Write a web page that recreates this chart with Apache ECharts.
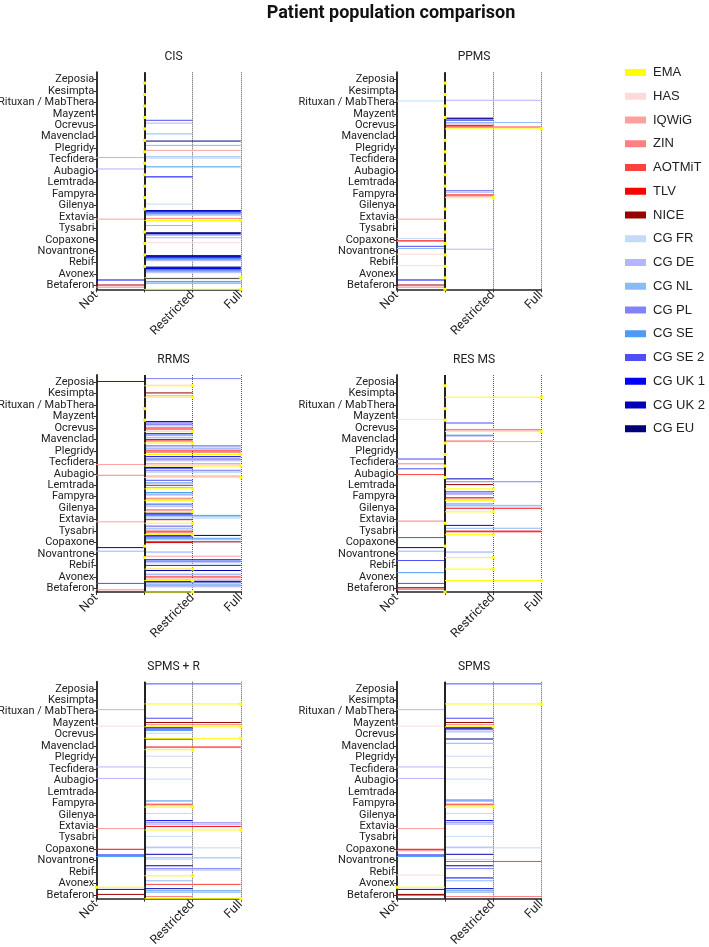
<!DOCTYPE html>
<html>
<head>
<meta charset="utf-8">
<script src="https://cdn.jsdelivr.net/npm/echarts@6/dist/echarts.min.js"></script>
<style>
  html, body { margin: 0; padding: 0; background: #fff; }
  #main { width: 709px; height: 947px; }
</style>
</head>
<body>
<div id="main"></div>
<script>
// drugs, top to bottom as on the y axis
const drugs = ['Zeposia', 'Kesimpta', 'Rituxan / MabThera', 'Mayzent', 'Ocrevus', 'Mavenclad',
  'Plegridy', 'Tecfidera', 'Aubagio', 'Lemtrada', 'Fampyra', 'Gilenya', 'Extavia', 'Tysabri',
  'Copaxone', 'Novantrone', 'Rebif', 'Avonex', 'Betaferon'];

const agencies = ['EMA', 'HAS', 'IQWiG', 'ZIN', 'AOTMiT', 'TLV', 'NICE', 'CG FR', 'CG DE', 'CG NL',
  'CG PL', 'CG SE', 'CG SE 2', 'CG UK 1', 'CG UK 2', 'CG EU'];
const agencyColors = ['#ffff00', '#ffdada', '#ffa0a0', '#ff8080', '#ff4040', '#ff0000', '#990000',
  '#c4daf8', '#b4b4ff', '#8abaf8', '#8282fa', '#4c9bf7', '#4f4ff7', '#0000ff', '#0000bb', '#000078'];

const xTickValues = [-1, 0, 1, 2];
const xTickLabels = ['Not', '', 'Restricted', 'Full'];

// one row per drug, one character per agency (same order as agencies)
// '.' no assessment, '0' no decision, 'N' not, 'R' restricted, 'F' full
const decisionValue = { '0': 0, N: -1, R: 1, F: 2 };

const cis = [
  '0...............', '0...............', '0...............', '0...............',
  '0.......R...R...', '0........R......', '0.F......F.....F', '0......FNF......',
  '0.......N..F....', '0............R..', '0...............', '0......R........',
  'F.NF...FFFFFFFF.', '0........R......', '0F......F...F.FF', '0...............',
  '0.......FFFFFFFF', 'F......FFFFFFFFF', 'F..N..N.FF.F.N.F'
];
const ppms = [
  '0...............', '0...............', '0......NF.......', '0...............',
  'F.FFRR..RF..R.RR', '0...............', '0...............', '0...............',
  '0...............', '0...............', 'R.RRR..RR.R.....', '0...............',
  '0.N.............', '0...............', '0..NN..N........', '0N......RN..N...',
  '0N..............', '0...............', '0..N..N......N..'
];
const rrms = [
  'RR....N...F.....', 'R.R...R.........', '0...............', '0...............',
  'RR.R.R..R.R.R.R.', 'R.R.RR.RR..R.R..', 'F..F.F.FFF..F...', 'FFNF...FFFF..F..',
  'FFFN...F.FF..RR.', 'R.R..R.RRR..R...', 'RRRR...RRR.R....', 'R.RR...RR.RR....',
  'R.N..R.F.F.FR.R.', 'RR.R.R.R.R..R...', '0....RF..F.F.R.F', '0.F....RRN....N.',
  'RR...F.F..FF.F..', 'R.F..F..FF....F.', 'R..N...FFF.FN.FF'
];
const resMs = [
  '0...............', 'F...............', '0...............', '0N..............',
  'F.FF........R...', '0.FR......RR....', '0...............', '0..N.....NN.....',
  '0...N.......N...', 'R.....R...F...R.', 'R.RRR...R.R.R...', 'R....F.F.F.R....',
  '0..N............', 'R...FF...F...R..', '0...........N...', 'R......RRN....N.',
  'R...........N...', 'F..........N....', '0...N.N.....N...'
];
const spmsR = [
  '............F...', 'F...............', '........N.......', 'FN.F..F.....R...',
  'F......R...R.R.R', 'R..FF..........R', '.......R........', '.......RN.......',
  '.......RN.......', '................', 'R..RR...RR......', '.......R........',
  'F.N..F..F.F..R..', '.......R........', '.....N.FR.......', '.......R.F.N.NR.',
  'R.......F.F...R.', 'N...F....R......', 'F..R..N..F.F.NR.'
];
const spms = [
  '............F...', 'F...............', '........N.......', 'RN.R..R.....R...',
  '.........R..R.RR', '.........R.....R', '.......R........', '.......RN.......',
  '.......RN.......', '................', 'R..RR...RRR.....', '.......R........',
  '..N.....R.R..R..', '.......R........', '...N.N.FR.......', '....F..R...N.NR.',
  '.N........R...R.', 'N........R...R..', '...F.NN..R.R.NR.'
];

const panelNames = ['CIS', 'PPMS', 'RRMS', 'RES MS', 'SPMS + R', 'SPMS'];
const panelRows = [cis, ppms, rrms, resMs, spmsR, spms];

const colLeft = [96.3, 396.8];
const rowTop = [72.3, 375, 681.7];
const plotW = 144.5;
const plotH = 217;
const yMin = -0.32;
const yMax = 18.62;
const firstOffset = -0.32;
const step = 1 / 16;
const labelFont = 'Roboto, "Noto Sans", sans-serif';

function drawDecision(color, withMark) {
  return function (params, api) {
    const v = api.value(0);
    const y = api.value(1);
    const a = api.coord([0, y]);
    const b = api.coord([v, y]);
    const parts = [];
    if (v !== 0) {
      parts.push({
        type: 'line',
        shape: { x1: a[0], y1: a[1], x2: b[0], y2: b[1] },
        style: { stroke: color, lineWidth: 1 }
      });
    }
    if (withMark) {
      parts.push({
        type: 'rect',
        shape: { x: b[0] - 1.5, y: b[1] - 1.5, width: 3, height: 3 },
        style: { fill: color }
      });
    }
    return { type: 'group', children: parts };
  };
}

const grids = [];
const xAxes = [];
const yAxes = [];
const titles = [{
  text: 'Patient population comparison',
  left: 386,
  top: -1,
  textAlign: 'center',
  textStyle: { fontFamily: labelFont, fontWeight: 'bold', fontSize: 18, color: '#111' }
}];
const series = [];
const tickVals = drugs.map((d, i) => i);

panelRows.forEach((rows, p) => {
  const left = colLeft[p % 2];
  const top = rowTop[Math.floor(p / 2)];
  grids.push({ left, top, width: plotW, height: plotH, outerBoundsMode: 'none' });
  titles.push({
    text: panelNames[p],
    left: left + plotW / 2,
    top: top - 26,
    textAlign: 'center',
    textStyle: { fontFamily: labelFont, fontWeight: 'normal', fontSize: 12, color: '#222' }
  });
  xAxes.push({
    type: 'value',
    gridIndex: p,
    min: -1,
    max: 2,
    interval: 1,
    axisLine: { show: true, onZero: false, lineStyle: { color: '#222', width: 1.5 } },
    axisTick: { show: true, length: 3, lineStyle: { color: '#333' } },
    axisLabel: {
      rotate: 45,
      margin: 4,
      showMinLabel: true,
      showMaxLabel: true,
      fontFamily: labelFont,
      fontSize: 12.5,
      color: '#222',
      formatter: v => xTickLabels[xTickValues.indexOf(v)] || ''
    },
    splitLine: { show: true, lineStyle: { type: 'dotted', color: '#555', width: 1 } }
  });
  yAxes.push({
    type: 'value',
    gridIndex: p,
    min: yMin,
    max: yMax,
    axisLine: { show: true, onZero: false, lineStyle: { color: '#333', width: 2 } },
    axisTick: { show: true, length: 3, customValues: tickVals, lineStyle: { color: '#333' } },
    axisLabel: {
      customValues: tickVals,
      margin: 2,
      fontFamily: labelFont,
      fontSize: 11,
      color: '#222',
      formatter: v => drugs[drugs.length - 1 - Math.round(v)]
    },
    splitLine: { show: false }
  });

  // solid line at zero
  series.push({
    type: 'line',
    xAxisIndex: p,
    yAxisIndex: p,
    data: [],
    z: 1,
    markLine: {
      silent: true,
      symbol: 'none',
      label: { show: false },
      lineStyle: { color: '#222', width: 2, type: 'solid' },
      data: [{ xAxis: 0 }]
    }
  });

  agencies.forEach((name, k) => {
    const data = [];
    rows.forEach((row, i) => {
      const c = row[k];
      if (c === '.') return;
      data.push([decisionValue[c], drugs.length - 1 - i + firstOffset + k * step]);
    });
    series.push({
      type: 'custom',
      name,
      xAxisIndex: p,
      yAxisIndex: p,
      z: k === 0 ? 5 : 2,
      itemStyle: { color: agencyColors[k] },
      renderItem: drawDecision(agencyColors[k], k === 0),
      data
    });
  });
});

const chart = echarts.init(document.getElementById('main'));
chart.setOption({
  animation: false,
  backgroundColor: '#fff',
  title: titles,
  grid: grids,
  xAxis: xAxes,
  yAxis: yAxes,
  legend: {
    orient: 'vertical',
    left: 620,
    top: 60.5,
    itemWidth: 21,
    itemHeight: 7,
    itemGap: 9.75,
    icon: 'rect',
    data: agencies,
    textStyle: {
      fontFamily: '"Liberation Sans", Arial, sans-serif',
      fontSize: 13,
      lineHeight: 14,
      color: '#222',
      padding: [0, 0, 0, 2]
    }
  },
  series
});
</script>
</body>
</html>
